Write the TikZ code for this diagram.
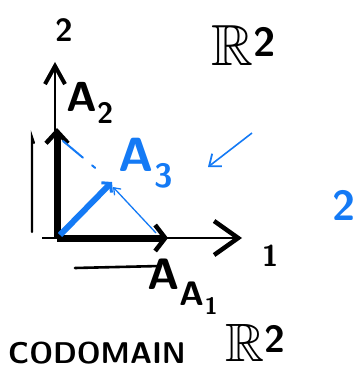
\documentclass[tikz,border=0pt]{standalone}
\usepackage{amssymb}
\usetikzlibrary{arrows.meta}
\definecolor{penblue}{RGB}{20,122,245}

\begin{document}
\begin{tikzpicture}[x=1pt,y=-1pt,
  hand/.style={font=\sffamily\bfseries\fontsize{#1}{#1}\selectfont, inner sep=0pt},
  hand/.default=40,
  axisline/.style={line width=1.6pt},
  vecline/.style={line width=7pt}]
\useasboundingbox (0,0) rectangle (362,371);

%---------------- axes -----------------
\coordinate (O) at (57,238);
\coordinate (xs) at (42,238);
\coordinate (xe) at (242,238);
\coordinate (ye) at (55,62);
\draw[axisline, -{Straight Barb[length=24pt,width=34pt,line width=4.5pt]}] (xs) -- (xe);
\draw[axisline, -{Straight Barb[length=18pt,width=20pt,line width=4pt]}] (55,238) -- (ye);
\node[hand=32] (lab2) at (64,30) {2};
\node[hand=30] (lab1) at (270,256) {1};

%---------------- black vectors A1, A2 -----------------
\coordinate (a1) at (168,238);
\coordinate (a2) at (57,128);
\draw[vecline, -{Straight Barb[length=10pt,width=26pt,line width=4.5pt]}] (O) -- (a1);
\draw[vecline, -{Straight Barb[length=12pt,width=22pt,line width=4.5pt]}] (O) -- (a2);
\node[hand=42] (A2) at (90,103) {A\textsubscript{2}};
\node[hand=44] (A1big) at (164,274) {A};
\node[hand=34] (A1) at (199,298) {A\textsubscript{1}};
% length marks
\coordinate (lt) at (32,137);
\coordinate (lb) at (32,232);
\draw[line width=2.2pt, line cap=round] (34,143) -- (lt) -- (lb);
\coordinate (ul) at (75,268);
\coordinate (ur) at (160,266);
\draw[line width=2.6pt, line cap=round] (ul) -- (ur);

%---------------- blue vector A3 -----------------
\coordinate (a3) at (112,182);
\draw[penblue, line width=6pt, -{Straight Barb[length=6pt,width=14pt,line width=3pt]}] (60,235) -- (a3);
\node[hand=48, penblue] (A3) at (146,163) {A\textsubscript{3}};
\coordinate (a1tip) at (156,233);
\coordinate (a2tip) at (63,141);
\draw[penblue, line width=1.3pt, -{Straight Barb[length=6pt,width=9pt]}] (a1tip) -- (113,187);
\draw[penblue, line width=2pt, line cap=round,
      dash pattern=on 26pt off 12pt on 4pt off 30pt] (a2tip) -- (a3);

%---------------- space labels -----------------
\coordinate (bs) at (252,133);
\coordinate (be) at (208,167);
\draw[penblue, line width=1.6pt, -{Straight Barb[length=10pt,width=16pt,line width=1.8pt]}] (bs) -- (be);
\node[hand=42, penblue] (dim) at (344,205) {2};
\node[hand=58] (R2top) at (244,46) {$\mathbb{R}$\textsuperscript{2}};
\node[hand=30] (codom) at (97,353) {CODOMAIN};
\node[hand=54] (R2bot) at (256,343) {$\mathbb{R}$\textsuperscript{2}};

\end{tikzpicture}
\end{document}
